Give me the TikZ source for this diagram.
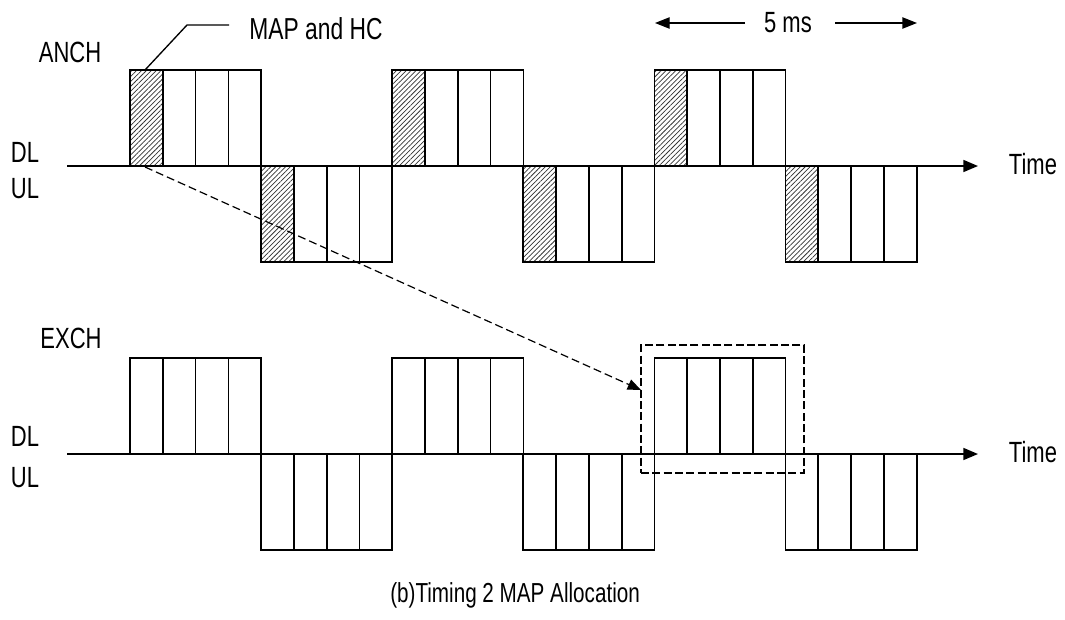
\documentclass[tikz,border=0pt]{standalone}
\usepackage{fontspec}
\setmainfont{Liberation Sans}
\usepackage{graphicx}
\usetikzlibrary{arrows.meta,patterns.meta}
\newcommand\stx[1]{\scalebox{1}[1.33]{#1}}
\begin{document}
\begin{tikzpicture}[x=0.75pt,y=-0.75pt,
  framebox/.style={line width=1.25pt},
  hatchfill/.style={pattern={Lines[angle=45,distance=2.6pt,line width=0.55pt]},pattern color=black!80},
  axisline/.style={line width=1.2pt,-{Triangle[length=11pt,width=9pt]}},
  lbl/.style={font=\fontsize{16.5}{18}\selectfont,inner sep=0pt},
  biglbl/.style={font=\fontsize{17.1}{19}\selectfont,inner sep=0pt},
  caplbl/.style={font=\fontsize{15.5}{17}\selectfont,inner sep=0pt},
  dasharrow/.style={line width=0.9pt,dash pattern=on 6pt off 3pt,-{Triangle[length=10pt,width=8pt]}},
  dashbox/.style={line width=0.9pt,dash pattern=on 6pt off 2.5pt},
  ]
\useasboundingbox (0,0) rectangle (1065,619);

% ---------- ANCH ----------
% hatched first slots
\foreach \xs in {130,392.2,654.4}{
  \fill[hatchfill] (\xs,70) rectangle (\xs+32.8,166);
}
\foreach \xs in {261.1,523.3,785.5}{
  \fill[hatchfill] (\xs,166) rectangle (\xs+32.8,262);
}
% DL frames
\foreach \xs in {130,392.2,654.4}{
  \draw[framebox] (\xs,166) rectangle (\xs+131.2,70);
  \foreach \k in {1,2,3}{\draw[framebox] (\xs+32.8*\k,70) -- (\xs+32.8*\k,166);}
}
% UL frames
\foreach \xs in {261.1,523.3,785.5}{
  \draw[framebox] (\xs,166) rectangle (\xs+131.2,262);
  \foreach \k in {1,2,3}{\draw[framebox] (\xs+32.8*\k,166) -- (\xs+32.8*\k,262);}
}
\coordinate (ax1s) at (67,166);
\coordinate (ax1e) at (978,166);
\draw[axisline] (ax1s) -- (ax1e);

% ---------- EXCH ----------
\foreach \xs in {130,392.2,654.4}{
  \draw[framebox] (\xs,454) rectangle (\xs+131.2,358);
  \foreach \k in {1,2,3}{\draw[framebox] (\xs+32.8*\k,358) -- (\xs+32.8*\k,454);}
}
\foreach \xs in {261.1,523.3,785.5}{
  \draw[framebox] (\xs,454) rectangle (\xs+131.2,550);
  \foreach \k in {1,2,3}{\draw[framebox] (\xs+32.8*\k,454) -- (\xs+32.8*\k,550);}
}
\coordinate (ax2s) at (67,454);
\coordinate (ax2e) at (978,454);
\draw[axisline] (ax2s) -- (ax2e);

% ---------- labels ----------
\node[lbl] (anch) at (70,52) {\stx{ANCH}};
\node[lbl] (dl1) at (25,152) {\stx{DL}};
\node[lbl] (ul1) at (25,189) {\stx{UL}};
\node[lbl] (time1) at (1033,164) {\stx{Time}};
\node[lbl] (exch) at (71,338) {\stx{EXCH}};
\node[lbl] (dl2) at (25,436) {\stx{DL}};
\node[lbl] (ul2) at (25,478) {\stx{UL}};
\node[lbl] (time2) at (1033,452) {\stx{Time}};
\node[biglbl] (maphc) at (316,29) {\stx{MAP and HC}};
\node[lbl] (ms) at (788,23) {\stx{5 ms}};
\node[caplbl,anchor=west] (cap) at (390,595) {\stx{(b)Timing 2 MAP Allocation}};

% leader line to hatched slot
\coordinate (lead0) at (145,70);
\coordinate (lead1) at (187,25);
\coordinate (lead2) at (229,25);
\draw[line width=1pt] (lead0) -- (lead1) -- (lead2);

% 5 ms arrows
\coordinate (msl1) at (745,23);
\coordinate (msl2) at (655,23);
\coordinate (msr1) at (835,23);
\coordinate (msr2) at (917,23);
\draw[line width=1pt,-{Triangle[length=11pt,width=8.5pt]}] (msl1) -- (msl2);
\draw[line width=1pt,-{Triangle[length=11pt,width=8.5pt]}] (msr1) -- (msr2);

% dashed selection box and dashed arrow
\node[dashbox,draw,minimum width=122.25pt,minimum height=96pt,inner sep=0pt] (sel) at (722.5,409) {};
\coordinate (mapstart) at (145,167);
\coordinate (selpt) at (641,390);
\draw[dasharrow] (mapstart) -- (selpt);
\end{tikzpicture}
\end{document}
